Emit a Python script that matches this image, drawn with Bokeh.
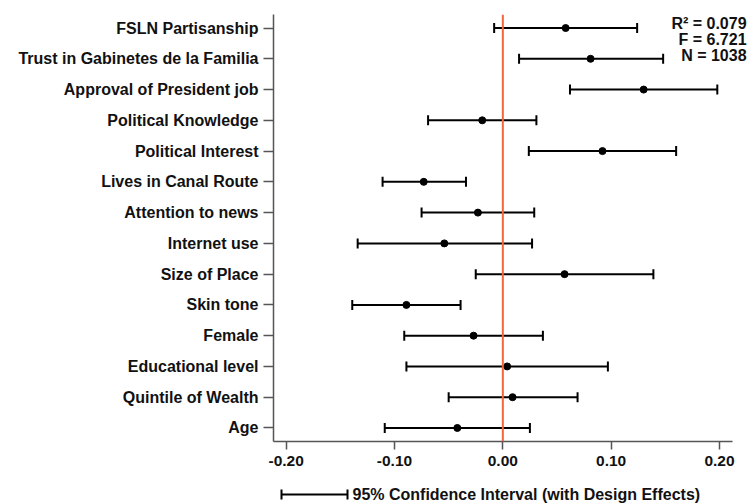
import numpy as np
from bokeh.plotting import figure
from bokeh.models import (ColumnDataSource, Range1d, FixedTicker, NumeralTickFormatter,
                          Whisker, TeeHead, Span, Label)
from bokeh.layouts import column
from bokeh.embed import file_html
from bokeh.resources import INLINE
from bokeh.core.properties import value

# ---- data (top to bottom as displayed) ----
labels = ["FSLN Partisanship", "Trust in Gabinetes de la Familia", "Approval of President job",
          "Political Knowledge", "Political Interest", "Lives in Canal Route",
          "Attention to news", "Internet use", "Size of Place", "Skin tone", "Female",
          "Educational level", "Quintile of Wealth", "Age"]
coef = [0.058, 0.081, 0.130, -0.019, 0.092, -0.073, -0.023, -0.054, 0.057, -0.089,
        -0.027, 0.004, 0.009, -0.042]
lower = [-0.008, 0.015, 0.062, -0.069, 0.024, -0.111, -0.075, -0.134, -0.025, -0.139,
         -0.091, -0.089, -0.050, -0.109]
upper = [0.124, 0.148, 0.198, 0.031, 0.160, -0.034, 0.029, 0.027, 0.139, -0.039,
         0.037, 0.097, 0.069, 0.025]
stats = ["R\u00b2 = 0.079", "F = 6.721", "N = 1038"]
x_ticks = [-0.2, -0.1, 0.0, 0.1, 0.2]
legend_text = "95% Confidence Interval (with Design Effects)"

FONT = "Liberation Sans"
TXT = "#111111"
n = len(labels)
ypos = list(np.arange(n)[::-1].astype(float))

src = ColumnDataSource(dict(y=ypos, coef=coef, lo=lower, hi=upper, label=labels))

X0, X1 = -0.2117, 0.2268   # frame extent (axis line bounded to X0..XB)
XB = 0.2120

p = figure(width=748, height=480, output_backend="svg", toolbar_location=None,
           x_range=Range1d(X0, X1), y_range=Range1d(-0.44, n - 1 + 0.44),
           min_border_left=273, min_border_right=0, min_border_top=14, min_border_bottom=39)
p.outline_line_color = None
p.xgrid.visible = False
p.ygrid.visible = False
p.background_fill_color = "white"
p.border_fill_color = "white"

# zero line
p.add_layout(Span(location=0, dimension="height", line_color="#F0663A", line_width=2))

# error bars
p.add_layout(Whisker(source=src, base="y", lower="lo", upper="hi", dimension="width",
                     line_color="black", line_width=2,
                     lower_head=TeeHead(size=10, line_color="black", line_width=2),
                     upper_head=TeeHead(size=10, line_color="black", line_width=2)))
p.scatter("coef", "y", source=src, size=7, color="black")

# axes
axis_color = "#555555"
p.yaxis.ticker = FixedTicker(ticks=ypos)
p.yaxis.major_label_overrides = {float(y): lab for y, lab in zip(ypos, labels)}
p.xaxis.ticker = FixedTicker(ticks=x_ticks)
p.xaxis.formatter = NumeralTickFormatter(format="0.00")
p.xaxis.bounds = (X0, XB)
for ax in (p.xaxis, p.yaxis):
    ax.axis_line_color = axis_color
    ax.axis_line_width = 1.5
    ax.major_tick_line_color = axis_color
    ax.major_tick_line_width = 1.5
    ax.major_tick_in = 0
    ax.minor_tick_line_color = None
    ax.major_label_text_font = FONT
    ax.major_label_text_font_style = "bold"
    ax.major_label_text_color = TXT
p.yaxis.major_label_text_font_size = "16px"
p.xaxis.major_label_text_font_size = "15.5px"
p.yaxis.major_tick_out = 10
p.yaxis.major_label_standoff = 5
p.xaxis.major_tick_out = 8
p.xaxis.major_label_standoff = 6

# stats text (top right)
stat_y = [13.138, 12.617, 12.107]
for s, yy in zip(stats, stat_y):
    p.add_layout(Label(x=0.2250, y=yy, text=s, text_align="right",
                       text_baseline="alphabetic", text_font=FONT, text_font_style="bold",
                       text_font_size="16px", text_color=TXT))

# legend strip (x in pixel units of the 748-wide window)
q = figure(width=748, height=24, output_backend="svg", toolbar_location=None,
           x_range=Range1d(273, 748), y_range=Range1d(0, 24),
           min_border_left=273, min_border_right=0, min_border_top=0,
           min_border_bottom=0)
q.axis.visible = False
q.grid.visible = False
q.outline_line_color = None
q.border_fill_color = "white"
lsrc = ColumnDataSource(dict(y=[10], lo=[281], hi=[347]))
q.add_layout(Whisker(source=lsrc, base="y", lower="lo", upper="hi", dimension="width",
                     line_color="black", line_width=2,
                     lower_head=TeeHead(size=10, line_color="black", line_width=2),
                     upper_head=TeeHead(size=10, line_color="black", line_width=2)))
q.text(x=[352], y=[10], text=[legend_text], text_baseline="middle", text_align="left",
       text_font=value(FONT), text_font_style="bold", text_font_size="16px",
       text_color=TXT)

layout = column(p, q, spacing=0)
open("out.html", "w").write(file_html(layout, INLINE))
